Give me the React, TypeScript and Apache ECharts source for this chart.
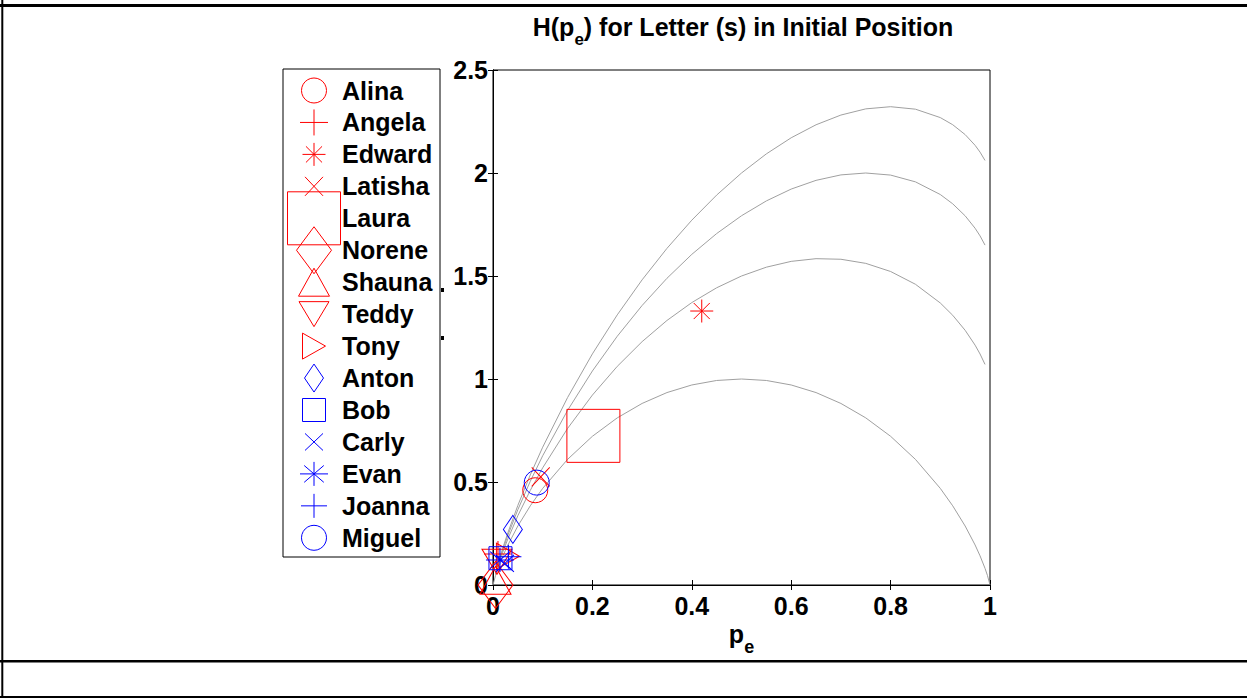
import React, { useEffect, useRef } from "react";
import * as echarts from "echarts";

// ---- Bound curves: H(p) + p*log2(k), k = 1..4, sampled on pGrid ----
const pGrid = [0, 0.005, 0.01, 0.02, 0.03, 0.05, 0.075, 0.1, 0.15, 0.2, 0.25, 0.3, 0.35, 0.4, 0.45, 0.5, 0.55, 0.6, 0.65, 0.7, 0.75, 0.8, 0.85, 0.9, 0.925, 0.95, 0.97, 0.98, 0.99, 0.995, 1];
const boundK1 = [0, 0.0454, 0.0808, 0.1414, 0.1944, 0.2864, 0.3843, 0.469, 0.6098, 0.7219, 0.8113, 0.8813, 0.9341, 0.971, 0.9928, 1, 0.9928, 0.971, 0.9341, 0.8813, 0.8113, 0.7219, 0.6098, 0.469, 0.3843, 0.2864, 0.1944, 0.1414, 0.0808, 0.0454, 0];
const boundK2 = [null, 0.0504, 0.0908, 0.1614, 0.2244, 0.3364, 0.4593, 0.569, 0.7598, 0.9219, 1.0613, 1.1813, 1.2841, 1.371, 1.4428, 1.5, 1.5428, 1.571, 1.5841, 1.5813, 1.5613, 1.5219, 1.4598, 1.369, 1.3093, 1.2364, 1.1644, 1.1214, 1.0708, null, null];
const boundK3 = [null, 0.0533, 0.0966, 0.1731, 0.2419, 0.3656, 0.5032, 0.6275, 0.8475, 1.0389, 1.2075, 1.3568, 1.4888, 1.605, 1.706, 1.7925, 1.8645, 1.922, 1.9643, 1.9908, 2.0, 1.9899, 1.957, 1.8955, 1.8504, 1.7921, 1.7318, 1.6947, 1.6499, null, null];
const boundK4 = [null, 0.0554, 0.1008, 0.1814, 0.2544, 0.3864, 0.5343, 0.669, 0.9098, 1.1219, 1.3113, 1.4813, 1.6341, 1.771, 1.8928, 2.0, 2.0928, 2.171, 2.2341, 2.2813, 2.3113, 2.3219, 2.3098, 2.269, 2.2343, 2.1864, 2.1344, 2.1014, 2.0608, null, null];
const bounds = [boundK1, boundK2, boundK3, boundK4];

// ---- Speakers ----
const speakers = ["Alina", "Angela", "Edward", "Latisha", "Laura", "Norene", "Shauna", "Teddy", "Tony", "Anton", "Bob", "Carly", "Evan", "Joanna", "Miguel"];
const speakerPe = [0.085, 0.01, 0.42, 0.096, 0.202, 0.005, 0.005, 0.008, 0.03, 0.04, 0.015, 0.024, 0.014, 0.031, 0.088];
const speakerH = [0.46, 0.15, 1.33, 0.525, 0.724, 0.0, 0.023, 0.113, 0.14, 0.27, 0.13, 0.105, 0.121, 0.137, 0.497];
const speakerColor = ["#ff0000", "#ff0000", "#ff0000", "#ff0000", "#ff0000", "#ff0000", "#ff0000", "#ff0000", "#ff0000", "#0000ff", "#0000ff", "#0000ff", "#0000ff", "#0000ff", "#0000ff"];
const speakerMarker = ["circle", "plus", "asterisk", "cross", "square", "diamond", "triUp", "triDown", "triRight", "diamond", "square", "cross", "asterisk", "plus", "circle"];
const speakerMarkerSize: [number, number][] = [[25, 25], [28, 26], [23, 23], [18, 19], [53, 53], [35, 47], [31, 28], [30, 25], [23, 26], [19, 28], [23, 23], [18, 17], [28, 24], [26, 24], [25, 25]];

// ---- Axes ----
const xTickLabels = ["0", "0.2", "0.4", "0.6", "0.8", "1"];
const yTickLabels = ["0", "0.5", "1", "1.5", "2", "2.5"];

// ---- Texts (main part, subscript, rest) ----
const titleParts = ["H(p", "e", ") for Letter (s) in Initial Position"];
const xNameParts = ["p", "e"];

const FONT = "'Liberation Sans', Arial, Helvetica, sans-serif";
const CURVE_COLOR = "#a0a0a0";

const GRID = { left: 493, top: 70, width: 497, height: 515 };

const SYMBOLS: Record<string, string> = {
  circle: "circle",
  square: "rect",
  diamond: "diamond",
  triUp: "triangle",
  triDown: "path://M0,0L100,0L50,87Z",
  triRight: "path://M0,0L87,50L0,100Z",
  plus: "path://M0,50L100,50M50,0L50,100",
  cross: "path://M0,0L100,100M100,0L0,100",
  asterisk: "path://M0,50L100,50M50,0L50,100M15,15L85,85M85,15L15,85",
};

let measureCtx: CanvasRenderingContext2D | null = null;
function textWidth(text: string, font: string): number {
  if (!measureCtx) measureCtx = document.createElement("canvas").getContext("2d");
  if (!measureCtx) return text.length * 12;
  measureCtx.font = font;
  return measureCtx.measureText(text).width;
}

// Text with a subscript: parts are [main, sub, main...], centred on cx
function subscriptText(parts: string[], cx: number, yMain: number, ySub: number, mainFont: string, subFont: string): any[] {
  const fonts = parts.map((_, i) => (i % 2 === 1 ? subFont : mainFont));
  const widths = parts.map((t, i) => textWidth(t, fonts[i]));
  const total = widths.reduce((a, b) => a + b, 0);
  let x = cx - total / 2;
  return parts.map((t, i) => {
    const el = {
      type: "text",
      z: 20,
      style: {
        text: t,
        x,
        y: i % 2 === 1 ? ySub : yMain,
        font: fonts[i],
        fill: "#000",
        align: "left",
        verticalAlign: "middle",
      },
    };
    x += widths[i];
    return el;
  });
}

function legendMarker(kind: string, cx: number, cy: number, w: number, h: number, color: string): any[] {
  const style = { fill: "none", stroke: color, lineWidth: 1 };
  const line = (x1: number, y1: number, x2: number, y2: number) => ({
    type: "line",
    shape: { x1, y1, x2, y2 },
    style: { stroke: color, lineWidth: 1 },
  });
  const hw = w / 2;
  const hh = h / 2;
  switch (kind) {
    case "circle":
      return [{ type: "circle", shape: { cx, cy, r: hw }, style }];
    case "square":
      return [{ type: "rect", shape: { x: cx - hw, y: cy - hh, width: w, height: h }, style }];
    case "diamond":
      return [{ type: "polygon", shape: { points: [[cx, cy - hh], [cx + hw, cy], [cx, cy + hh], [cx - hw, cy]] }, style }];
    case "triUp":
      return [{ type: "polygon", shape: { points: [[cx, cy - hh], [cx + hw, cy + hh], [cx - hw, cy + hh]] }, style }];
    case "triDown":
      return [{ type: "polygon", shape: { points: [[cx - hw, cy - hh], [cx + hw, cy - hh], [cx, cy + hh]] }, style }];
    case "triRight":
      return [{ type: "polygon", shape: { points: [[cx - hw, cy - hh], [cx + hw, cy], [cx - hw, cy + hh]] }, style }];
    case "plus":
      return [line(cx - hw, cy, cx + hw, cy), line(cx, cy - hh, cx, cy + hh)];
    case "cross":
      return [line(cx - hw, cy - hh, cx + hw, cy + hh), line(cx + hw, cy - hh, cx - hw, cy + hh)];
    case "asterisk":
      return [
        line(cx - hw, cy, cx + hw, cy),
        line(cx, cy - hh, cx, cy + hh),
        line(cx - hw * 0.7, cy - hh * 0.7, cx + hw * 0.7, cy + hh * 0.7),
        line(cx + hw * 0.7, cy - hh * 0.7, cx - hw * 0.7, cy + hh * 0.7),
      ];
    default:
      return [];
  }
}

export default function App() {
  const ref = useRef<HTMLDivElement>(null);

  useEffect(() => {
    if (!ref.current) return;
    const chart = echarts.init(ref.current, null, { renderer: "svg" });

    const curveSeries = bounds.map((vals, i) => ({
      type: "line",
      name: `bound${i + 1}`,
      data: pGrid.map((p, j) => [p, vals[j]]),
      showSymbol: false,
      smooth: false,
      connectNulls: false,
      silent: true,
      lineStyle: { color: CURVE_COLOR, width: 1 },
      z: 2,
    }));

    const pointSeries = speakers.map((name, i) => ({
      type: "scatter",
      name,
      data: [[speakerPe[i], speakerH[i]]],
      symbol: SYMBOLS[speakerMarker[i]],
      symbolSize: speakerMarkerSize[i],
      silent: true,
      itemStyle: { color: "rgba(0,0,0,0)", borderColor: speakerColor[i], borderWidth: 1, opacity: 1 },
      z: 3,
    }));

    // Legend box, drawn by hand so each entry keeps its own marker size
    const legendLeft = 283;
    const legendTop = 69;
    const legendW = 157;
    const legendH = 488;
    const rowTop = 90.5;
    const rowStep = 31.95;
    const legendEls: any[] = [
      {
        type: "rect",
        shape: { x: legendLeft, y: legendTop, width: legendW, height: legendH },
        style: { fill: "#fff", stroke: "#000", lineWidth: 1 },
      },
    ];
    speakers.forEach((name, i) => {
      const cy = rowTop + i * rowStep;
      const [w, h] = speakerMarkerSize[i];
      legendEls.push(...legendMarker(speakerMarker[i], 314, cy, w, h, speakerColor[i]));
      legendEls.push({
        type: "text",
        style: {
          text: name,
          x: 342,
          y: cy,
          fill: "#000",
          font: `bold 25px ${FONT}`,
          verticalAlign: "middle",
          align: "left",
        },
      });
    });

    const frameLine = (x1: number, y1: number, x2: number, y2: number, w: number) => ({
      type: "line",
      shape: { x1, y1, x2, y2 },
      style: { stroke: "#000", lineWidth: w },
      silent: true,
    });

    const titleEls = subscriptText(titleParts, 743, 27, 39, `bold 25px ${FONT}`, `bold 17px ${FONT}`);
    const xNameEls = subscriptText(xNameParts, 741.5, 634, 647, `bold 25px ${FONT}`, `bold 18px ${FONT}`);

    const option: any = {
      animation: false,
      backgroundColor: "#fff",
      grid: { ...GRID, show: true, borderColor: "#000", borderWidth: 1, backgroundColor: "transparent" },
      xAxis: [
        {
          type: "value",
          min: 0,
          max: 1,
          interval: 0.2,
          position: "bottom",
          axisLine: { show: true, lineStyle: { color: "#000", width: 1 } },
          axisTick: { show: true, inside: true, length: 5, lineStyle: { color: "#000" } },
          axisLabel: {
            color: "#000",
            fontFamily: FONT,
            fontWeight: "bold",
            fontSize: 25,
            margin: 8,
            formatter: (v: number) => xTickLabels[Math.round(v / 0.2)] ?? "",
          },
          splitLine: { show: false },
        },
        {
          type: "value",
          min: 0,
          max: 1,
          interval: 0.2,
          position: "top",
          axisLine: { show: true, lineStyle: { color: "#000", width: 1 } },
          axisTick: { show: true, inside: true, length: 5, lineStyle: { color: "#000" } },
          axisLabel: { show: false },
          splitLine: { show: false },
        },
      ],
      yAxis: [
        {
          type: "value",
          min: 0,
          max: 2.5,
          interval: 0.5,
          position: "left",
          axisLine: { show: true, lineStyle: { color: "#000", width: 1 } },
          axisTick: { show: true, inside: true, length: 5, lineStyle: { color: "#000" } },
          axisLabel: {
            color: "#000",
            fontFamily: FONT,
            fontWeight: "bold",
            fontSize: 25,
            margin: 5,
            formatter: (v: number) => yTickLabels[Math.round(v / 0.5)] ?? "",
          },
          splitLine: { show: false },
        },
        {
          type: "value",
          min: 0,
          max: 2.5,
          interval: 0.5,
          position: "right",
          axisLine: { show: true, lineStyle: { color: "#000", width: 1 } },
          axisTick: { show: true, inside: true, length: 5, lineStyle: { color: "#000" } },
          axisLabel: { show: false },
          splitLine: { show: false },
        },
      ],
      series: [...curveSeries, ...pointSeries],
      graphic: [
        // page rules around the figure
        frameLine(0, 5.5, 1247, 5.5, 3),
        frameLine(2.3, 0, 2.3, 698, 2),
        frameLine(0, 661.3, 1247, 661.3, 2.5),
        frameLine(0, 697, 1247, 697, 2),
        ...titleEls,
        ...xNameEls,
        // fragments of the y-axis label peeking out beside the legend
        { type: "rect", shape: { x: 441, y: 288, width: 3, height: 4 }, style: { fill: "#000" } },
        { type: "rect", shape: { x: 441, y: 336, width: 3, height: 4 }, style: { fill: "#000" } },
        { type: "group", z: 10, children: legendEls },
      ],
    };

    chart.setOption(option);
    return () => chart.dispose();
  }, []);

  return (
    <div
      ref={ref}
      style={{ position: "absolute", left: 0, top: 0, width: 1247, height: 698 }}
    />
  );
}
